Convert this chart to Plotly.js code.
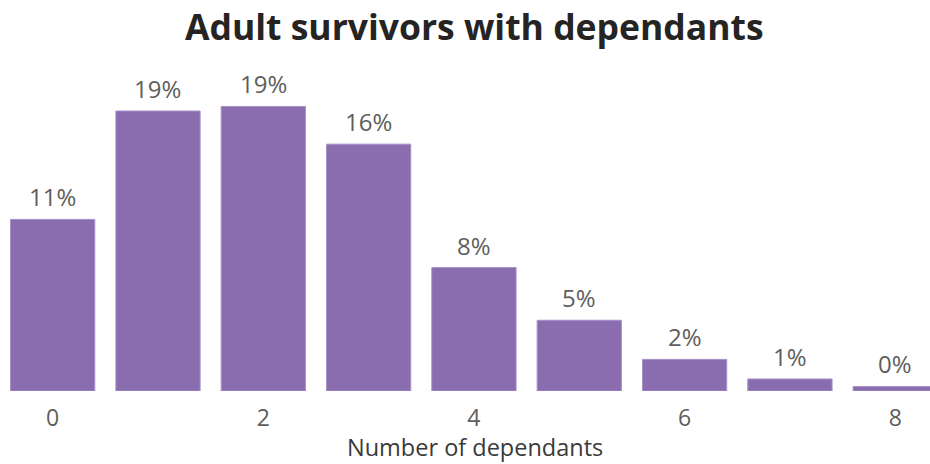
<!DOCTYPE html>
<html><head><meta charset="utf-8">
<script src="https://cdn.plot.ly/plotly-3.0.1.min.js"></script>
<style>html,body{margin:0;padding:0;background:#fff}#chart{width:930px;height:464px}</style>
</head><body><div id="chart"></div>
<script>
const dependants = [0, 1, 2, 3, 4, 5, 6, 7, 8];
const sharePct = [11.4, 18.6, 18.9, 16.4, 8.2, 4.7, 2.1, 0.8, 0.3];
const tickValues = [0, 2, 4, 6, 8];
const tickLabels = ["0", "2", "4", "6", "8"];
const chartTitle = "Adult survivors with dependants";
const xTitle = "Number of dependants";

const FONT = "Open Sans, sans-serif";

const trace = {
  type: "bar",
  x: dependants,
  y: sharePct,
  marker: {color: "#8A6DAF", line: {color: "#A690C6", width: 1}},
  hoverinfo: "none"
};

const labels = dependants.map((d, i) => ({
  x: d, y: sharePct[i], xref: "x", yref: "y",
  text: Math.round(sharePct[i]) + "%",
  showarrow: false, yanchor: "bottom", yshift: 4,
  font: {family: FONT, size: 24, color: "#605E5C"}
}));

labels.push({
  x: 0.511, y: -0.18, xref: "paper", yref: "paper",
  xanchor: "center", yanchor: "middle", showarrow: false,
  borderpad: 0,
  text: xTitle,
  font: {family: FONT, size: 23.5, color: "#3A3A3A"}
});

const layout = {
  width: 930, height: 464,
  margin: {l: 0, r: 0, t: 80, b: 73},
  paper_bgcolor: "#fff", plot_bgcolor: "#fff",
  bargap: 0.2,
  showlegend: false,
  annotations: labels,
  title: {text: "<b>" + chartTitle + "</b>", font: {family: FONT, size: 35.5, color: "#252423"},
          x: 0.51, xanchor: "center", y: 0.94, yanchor: "middle", yref: "container"},
  xaxis: {range: [-0.5, 8.33], tickvals: tickValues, ticktext: tickLabels, showgrid: false, zeroline: false, showline: false,
          ticks: "outside", ticklen: 6, tickcolor: "rgba(0,0,0,0)",
          tickfont: {family: FONT, size: 23, color: "#605E5C"}},
  yaxis: {range: [0, 20.66], visible: false, fixedrange: true}
};

Plotly.newPlot("chart", [trace], layout, {displayModeBar: false, staticPlot: true});
</script></body></html>
